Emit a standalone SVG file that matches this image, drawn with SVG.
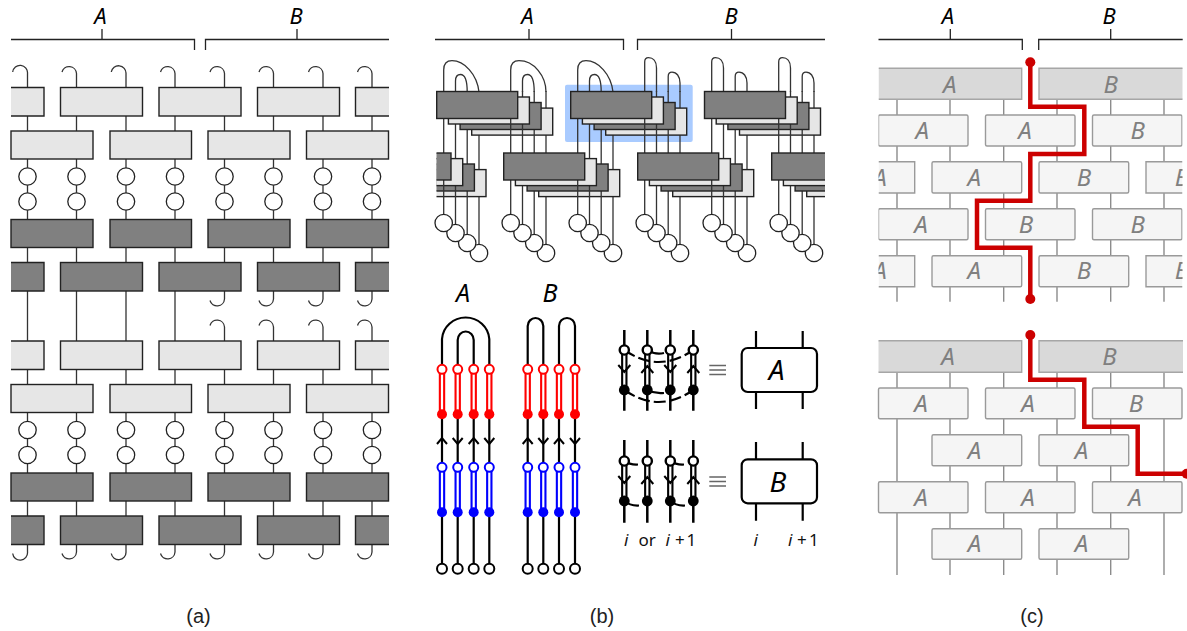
<svg xmlns="http://www.w3.org/2000/svg" width="1187" height="631" viewBox="0 0 1187 631">
<style>
text{font-family:"Noto Sans","DejaVu Sans",sans-serif;fill:#000}
.hd{font-size:22px;font-style:italic;text-anchor:middle}
.cap{font-family:"Liberation Sans",Arial,sans-serif;font-size:20px;text-anchor:middle;fill:#222}
.br{fill:none;stroke:#222;stroke-width:1.3}
.wa{fill:none;stroke:#333;stroke-width:1.3}
.lt{fill:#e6e6e6;stroke:#222;stroke-width:1.4}
.dk{fill:#808080;stroke:#222;stroke-width:1.4}
.oc{fill:#fff;stroke:#222;stroke-width:1.3}
.k2{fill:none;stroke:#000;stroke-width:2.2}
.k3{fill:none;stroke:#000;stroke-width:2.5}
.dbl{fill:none;stroke-width:6.4}
.dblw{fill:none;stroke:#fff;stroke-width:2.2}
.rc{fill:#fff;stroke:#f00;stroke-width:2}
.bc{fill:#fff;stroke:#00f;stroke-width:2}
.kc{fill:#fff;stroke:#000;stroke-width:2}
.kd{fill:#fff;stroke:#000;stroke-width:2.4}
.ar{fill:none;stroke:#000;stroke-width:2}
.dash{fill:none;stroke:#000;stroke-width:2.2}
.mb{fill:#fff;stroke:#000;stroke-width:2.2}
.eq{stroke:#666;stroke-width:1.4;fill:none}
.lab{font-size:17px;fill:#111}
.big{font-size:25px;font-style:italic;text-anchor:middle}
.bigg{font-size:28px;font-style:italic;text-anchor:middle}
.wc{fill:none;stroke:#8c8c8c;stroke-width:1.4}
.h{fill:#d9d9d9;stroke:#a6a6a6;stroke-width:1.4}
.b{fill:#f5f5f5;stroke:#9a9a9a;stroke-width:1.4}
.t{font-size:24px;font-style:italic;text-anchor:middle;fill:#808080}
.red{fill:none;stroke:#cc0000;stroke-width:4.5}
</style>
<defs>
<clipPath id="clipB"><rect x="436.5" y="140" width="388.5" height="60"/></clipPath>
<clipPath id="clipC"><rect x="878.5" y="0" width="304" height="631"/></clipPath>
</defs>

<g id="brackets">
<path class="br" d="M11 39.5H194.5V50M102 29V39.5"/>
<path class="br" d="M389 39.5H205.5V50M297 29V39.5"/>
<path class="br" d="M435 39.5H623.5V50M529 29V39.5"/>
<path class="br" d="M825 39.5H637.5V50M731.5 29V39.5"/>
<path class="br" d="M878.5 39.5H1022.3V50M950.3 29V39.5"/>
<path class="br" d="M1182.7 39.5H1038.7V50M1110.7 29V39.5"/>
<text class="hd" x="100.5" y="24">A</text>
<text class="hd" x="296" y="24">B</text>
<text class="hd" x="527.5" y="24">A</text>
<text class="hd" x="731" y="24">B</text>
<text class="hd" x="948" y="24">A</text>
<text class="hd" x="1109" y="24">B</text>
</g>

<g id="connectors-a">
<path class="wa" d="M12.7 72A7.4 7.4 0 0 1 27.5 73.5V552A7.4 7.4 0 0 1 12.7 553.5"/>
<path class="wa" d="M62 72A7.4 7.4 0 0 1 76.5 73.5V552A7.4 7.4 0 0 1 62 553.5"/>
<path class="wa" d="M111.3 72A7.4 7.4 0 0 1 126 73.5V552A7.4 7.4 0 0 1 111.3 553.5"/>
<path class="wa" d="M160.5 72A7.4 7.4 0 0 1 175 73.5V552A7.4 7.4 0 0 1 160.5 553.5"/>
<path class="wa" d="M210 72A7.4 7.4 0 0 1 224.5 73.5V299A7.4 7.4 0 0 1 210 300.5M210 325.5A7.4 7.4 0 0 1 224.5 327V552A7.4 7.4 0 0 1 210 553.5"/>
<path class="wa" d="M259 72A7.4 7.4 0 0 1 273.5 73.5V299A7.4 7.4 0 0 1 259 300.5M259 325.5A7.4 7.4 0 0 1 273.5 327V552A7.4 7.4 0 0 1 259 553.5"/>
<path class="wa" d="M308.5 72A7.4 7.4 0 0 1 323 73.5V299A7.4 7.4 0 0 1 308.5 300.5M308.5 325.5A7.4 7.4 0 0 1 323 327V552A7.4 7.4 0 0 1 308.5 553.5"/>
<path class="wa" d="M357.5 72A7.4 7.4 0 0 1 372 73.5V299A7.4 7.4 0 0 1 357.5 300.5M357.5 325.5A7.4 7.4 0 0 1 372 327V552A7.4 7.4 0 0 1 357.5 553.5"/>
</g>

<g id="a-block-top">
<path class="lt" d="M11 87.5H44V116H11"/>
<rect class="lt" x="60.5" y="87.5" width="82" height="28.5"/>
<rect class="lt" x="159" y="87.5" width="82" height="28.5"/>
<rect class="lt" x="257.5" y="87.5" width="82" height="28.5"/>
<path class="lt" d="M389 87.5H355.5V116H389"/>
<rect class="lt" x="11" y="131" width="82" height="28"/>
<rect class="lt" x="110" y="131" width="81.5" height="28"/>
<rect class="lt" x="208" y="131" width="82" height="28"/>
<rect class="lt" x="306.5" y="131" width="82" height="28"/>
<circle class="oc" cx="27.5" cy="176.5" r="8.7"/><circle class="oc" cx="76.5" cy="176.5" r="8.7"/><circle class="oc" cx="126" cy="176.5" r="8.7"/><circle class="oc" cx="175" cy="176.5" r="8.7"/><circle class="oc" cx="224.5" cy="176.5" r="8.7"/><circle class="oc" cx="273.5" cy="176.5" r="8.7"/><circle class="oc" cx="323" cy="176.5" r="8.7"/><circle class="oc" cx="372" cy="176.5" r="8.7"/>
<circle class="oc" cx="27.5" cy="201.5" r="8.7"/><circle class="oc" cx="76.5" cy="201.5" r="8.7"/><circle class="oc" cx="126" cy="201.5" r="8.7"/><circle class="oc" cx="175" cy="201.5" r="8.7"/><circle class="oc" cx="224.5" cy="201.5" r="8.7"/><circle class="oc" cx="273.5" cy="201.5" r="8.7"/><circle class="oc" cx="323" cy="201.5" r="8.7"/><circle class="oc" cx="372" cy="201.5" r="8.7"/>
<rect class="dk" x="11" y="219.5" width="82" height="28"/>
<rect class="dk" x="110" y="219.5" width="81.5" height="28"/>
<rect class="dk" x="208" y="219.5" width="82" height="28"/>
<rect class="dk" x="306.5" y="219.5" width="82" height="28"/>
<path class="dk" d="M11 262.5H44V291H11"/>
<rect class="dk" x="60.5" y="262.5" width="82" height="28.5"/>
<rect class="dk" x="159" y="262.5" width="82" height="28.5"/>
<rect class="dk" x="257.5" y="262.5" width="82" height="28.5"/>
<path class="dk" d="M389 262.5H355.5V291H389"/>
</g>

<g id="a-block-bottom">
<path class="lt" d="M11 341H44V369.5H11"/>
<rect class="lt" x="60.5" y="341" width="82" height="28.5"/>
<rect class="lt" x="159" y="341" width="82" height="28.5"/>
<rect class="lt" x="257.5" y="341" width="82" height="28.5"/>
<path class="lt" d="M389 341H355.5V369.5H389"/>
<rect class="lt" x="11" y="384.5" width="82" height="28"/>
<rect class="lt" x="110" y="384.5" width="81.5" height="28"/>
<rect class="lt" x="208" y="384.5" width="82" height="28"/>
<rect class="lt" x="306.5" y="384.5" width="82" height="28"/>
<circle class="oc" cx="27.5" cy="430" r="8.7"/><circle class="oc" cx="76.5" cy="430" r="8.7"/><circle class="oc" cx="126" cy="430" r="8.7"/><circle class="oc" cx="175" cy="430" r="8.7"/><circle class="oc" cx="224.5" cy="430" r="8.7"/><circle class="oc" cx="273.5" cy="430" r="8.7"/><circle class="oc" cx="323" cy="430" r="8.7"/><circle class="oc" cx="372" cy="430" r="8.7"/>
<circle class="oc" cx="27.5" cy="455" r="8.7"/><circle class="oc" cx="76.5" cy="455" r="8.7"/><circle class="oc" cx="126" cy="455" r="8.7"/><circle class="oc" cx="175" cy="455" r="8.7"/><circle class="oc" cx="224.5" cy="455" r="8.7"/><circle class="oc" cx="273.5" cy="455" r="8.7"/><circle class="oc" cx="323" cy="455" r="8.7"/><circle class="oc" cx="372" cy="455" r="8.7"/>
<rect class="dk" x="11" y="473" width="82" height="28"/>
<rect class="dk" x="110" y="473" width="81.5" height="28"/>
<rect class="dk" x="208" y="473" width="82" height="28"/>
<rect class="dk" x="306.5" y="473" width="82" height="28"/>
<path class="dk" d="M11 516H44V544.5H11"/>
<rect class="dk" x="60.5" y="516" width="82" height="28.5"/>
<rect class="dk" x="159" y="516" width="82" height="28.5"/>
<rect class="dk" x="257.5" y="516" width="82" height="28.5"/>
<path class="dk" d="M389 516H355.5V544.5H389"/>
</g>

<g id="b-highlight"><rect x="565" y="84.7" width="127.7" height="57.3" rx="2" fill="#a9cbff"/></g>

<g id="connectors-b-arcs">
<path class="wa" d="M443.7 92V70C443.7 63.5 447 60.7 452 60.7C464 60.7 477 74 479 92M455.5 92V81C455.5 76.5 457.5 74.5 460.5 74.5C465 74.5 467.2 80 467.2 92"/>
<path class="wa" d="M510.7 92V70C510.7 63.5 514 60.7 519 60.7C534 60.7 546 76 546 92M522.5 92V81C522.5 76.5 524.5 74.5 527.5 74.5C532 74.5 534.2 80 534.2 92"/>
<path class="wa" d="M577.7 92V70C577.7 63.5 581 60.7 586 60.7C598 60.7 611 74 613 92M589.5 92V81C589.5 76.5 591.5 74.5 594.5 74.5C599 74.5 601.2 80 601.2 92"/>
<path class="wa" d="M644.7 92V62C644.7 59 646.5 57.7 648.5 57.7C653 57.7 656.5 61 656.5 68V92M668.2 92V76.5C668.2 73.5 670 72.2 672 72.2C676.5 72.2 680 76 680 83V92"/>
<path class="wa" d="M711.7 92V62C711.7 59 713.5 57.7 715.5 57.7C720 57.7 723.5 61 723.5 68V92M735.2 92V76.5C735.2 73.5 737 72.2 739 72.2C743.5 72.2 747 76 747 83V92"/>
<path class="wa" d="M778.7 92V62C778.7 59 780.5 57.7 782.5 57.7C787 57.7 790.5 61 790.5 68V92M802.2 92V76.5C802.2 73.5 804 72.2 806 72.2C810.5 72.2 814 76 814 83V92"/>
</g>

<g id="connectors-b-layer4"><path class="wa" d="M479 91V253M546 91V253M613 91V253M680 91V253M747 91V253M814 91V253"/></g>
<g id="b-layer4">
<rect class="lt" x="471.7" y="108.1" width="81" height="27"/><rect class="lt" x="605.7" y="108.1" width="81" height="27"/><rect class="lt" x="739.5" y="108.1" width="81" height="27"/>
<g clip-path="url(#clipB)"><rect class="lt" x="405" y="169.6" width="81" height="27"/><rect class="lt" x="538.7" y="169.6" width="81" height="27"/><rect class="lt" x="672.7" y="169.6" width="81" height="27"/><rect class="lt" x="806.7" y="169.6" width="81" height="27"/></g>
</g>
<g id="connectors-b-layer3"><path class="wa" d="M467.2 91V243M534.2 91V243M601.2 91V243M668.2 91V243M735.2 91V243M802.2 91V243"/></g>
<g id="b-layer3">
<rect class="dk" x="460.1" y="102.5" width="81" height="27"/><rect class="dk" x="594.1" y="102.5" width="81" height="27"/><rect class="dk" x="727.9" y="102.5" width="81" height="27"/>
<g clip-path="url(#clipB)"><rect class="dk" x="393.4" y="164" width="81" height="27"/><rect class="dk" x="527.1" y="164" width="81" height="27"/><rect class="dk" x="661.1" y="164" width="81" height="27"/><rect class="dk" x="795.1" y="164" width="81" height="27"/></g>
</g>
<g id="connectors-b-layer2"><path class="wa" d="M455.5 91V233M522.5 91V233M589.5 91V233M656.5 91V233M723.5 91V233M790.5 91V233"/></g>
<g id="b-layer2">
<rect class="lt" x="448.4" y="97" width="81" height="27"/><rect class="lt" x="582.4" y="97" width="81" height="27"/><rect class="lt" x="716.2" y="97" width="81" height="27"/>
<g clip-path="url(#clipB)"><rect class="lt" x="381.7" y="158.6" width="81" height="27"/><rect class="lt" x="515.4" y="158.6" width="81" height="27"/><rect class="lt" x="649.4" y="158.6" width="81" height="27"/><rect class="lt" x="783.4" y="158.6" width="81" height="27"/></g>
</g>
<g id="connectors-b-layer1"><path class="wa" d="M443.7 91V223M510.7 91V223M577.7 91V223M644.7 91V223M711.7 91V223M778.7 91V223"/></g>
<g id="b-layer1">
<rect class="dk" x="436.7" y="91.5" width="81" height="27"/><rect class="dk" x="570.7" y="91.5" width="81" height="27"/><rect class="dk" x="704.5" y="91.5" width="81" height="27"/>
<g clip-path="url(#clipB)"><rect class="dk" x="370" y="153" width="81" height="27"/><rect class="dk" x="503.7" y="153" width="81" height="27"/><rect class="dk" x="637.7" y="153" width="81" height="27"/><rect class="dk" x="771.7" y="153" width="81" height="27"/></g>
</g>

<g id="b-circles">
<circle class="oc" cx="479" cy="253" r="8.7"/><circle class="oc" cx="467.2" cy="243" r="8.7"/><circle class="oc" cx="455.5" cy="233" r="8.7"/><circle class="oc" cx="443.7" cy="223" r="8.7"/>
<circle class="oc" cx="546" cy="253" r="8.7"/><circle class="oc" cx="534.2" cy="243" r="8.7"/><circle class="oc" cx="522.5" cy="233" r="8.7"/><circle class="oc" cx="510.7" cy="223" r="8.7"/>
<circle class="oc" cx="613" cy="253" r="8.7"/><circle class="oc" cx="601.2" cy="243" r="8.7"/><circle class="oc" cx="589.5" cy="233" r="8.7"/><circle class="oc" cx="577.7" cy="223" r="8.7"/>
<circle class="oc" cx="680" cy="253" r="8.7"/><circle class="oc" cx="668.2" cy="243" r="8.7"/><circle class="oc" cx="656.5" cy="233" r="8.7"/><circle class="oc" cx="644.7" cy="223" r="8.7"/>
<circle class="oc" cx="747" cy="253" r="8.7"/><circle class="oc" cx="735.2" cy="243" r="8.7"/><circle class="oc" cx="723.5" cy="233" r="8.7"/><circle class="oc" cx="711.7" cy="223" r="8.7"/>
<circle class="oc" cx="814" cy="253" r="8.7"/><circle class="oc" cx="802.2" cy="243" r="8.7"/><circle class="oc" cx="790.5" cy="233" r="8.7"/><circle class="oc" cx="778.7" cy="223" r="8.7"/>
</g>

<g id="b-model-A">
<text class="big" x="463" y="302">A</text>
<path class="k2" d="M442 369V339A23.7 23 0 0 1 489.3 339V369M457.7 369V340A8 8.5 0 0 1 473.7 340V369"/>
<path class="k2" d="M442 414V568M457.7 414V568M473.7 414V568M489.3 414V568"/>
<path class="dbl" stroke="#f00" d="M442 369V414M457.7 369V414M473.7 369V414M489.3 369V414"/>
<path class="dblw" d="M442 372V410M457.7 372V410M473.7 372V410M489.3 372V410"/>
<path class="dbl" stroke="#00f" d="M442 467V512M457.7 467V512M473.7 467V512M489.3 467V512"/>
<path class="dblw" d="M442 470V508M457.7 470V508M473.7 470V508M489.3 470V508"/>
<path class="ar" d="M437 444L442 438L447 444M452.7 438L457.7 444L462.7 438M468.7 444L473.7 438L478.7 444M484.3 438L489.3 444L494.3 438"/>
<circle class="rc" cx="442" cy="369.3" r="4.5"/><circle class="rc" cx="457.7" cy="369.3" r="4.5"/><circle class="rc" cx="473.7" cy="369.3" r="4.5"/><circle class="rc" cx="489.3" cy="369.3" r="4.5"/>
<circle fill="#f00" cx="442" cy="414.3" r="5"/><circle fill="#f00" cx="457.7" cy="414.3" r="5"/><circle fill="#f00" cx="473.7" cy="414.3" r="5"/><circle fill="#f00" cx="489.3" cy="414.3" r="5"/>
<circle class="bc" cx="442" cy="467.3" r="4.5"/><circle class="bc" cx="457.7" cy="467.3" r="4.5"/><circle class="bc" cx="473.7" cy="467.3" r="4.5"/><circle class="bc" cx="489.3" cy="467.3" r="4.5"/>
<circle fill="#00f" cx="442" cy="512.3" r="5"/><circle fill="#00f" cx="457.7" cy="512.3" r="5"/><circle fill="#00f" cx="473.7" cy="512.3" r="5"/><circle fill="#00f" cx="489.3" cy="512.3" r="5"/>
<circle class="kc" cx="442" cy="568.7" r="5"/><circle class="kc" cx="457.7" cy="568.7" r="5"/><circle class="kc" cx="473.7" cy="568.7" r="5"/><circle class="kc" cx="489.3" cy="568.7" r="5"/>
</g>

<g id="b-model-B">
<text class="big" x="550" y="302">B</text>
<path class="k2" d="M527.7 369V326A7.8 8 0 0 1 543.3 326V369M559 369V326A8 8 0 0 1 575 326V369"/>
<path class="k2" d="M527.7 414V568M543.3 414V568M559 414V568M575 414V568"/>
<path class="dbl" stroke="#f00" d="M527.7 369V414M543.3 369V414M559 369V414M575 369V414"/>
<path class="dblw" d="M527.7 372V410M543.3 372V410M559 372V410M575 372V410"/>
<path class="dbl" stroke="#00f" d="M527.7 467V512M543.3 467V512M559 467V512M575 467V512"/>
<path class="dblw" d="M527.7 470V508M543.3 470V508M559 470V508M575 470V508"/>
<path class="ar" d="M522.7 444L527.7 438L532.7 444M538.3 438L543.3 444L548.3 438M554 444L559 438L564 444M570 438L575 444L580 438"/>
<circle class="rc" cx="527.7" cy="369.3" r="4.5"/><circle class="rc" cx="543.3" cy="369.3" r="4.5"/><circle class="rc" cx="559" cy="369.3" r="4.5"/><circle class="rc" cx="575" cy="369.3" r="4.5"/>
<circle fill="#f00" cx="527.7" cy="414.3" r="5"/><circle fill="#f00" cx="543.3" cy="414.3" r="5"/><circle fill="#f00" cx="559" cy="414.3" r="5"/><circle fill="#f00" cx="575" cy="414.3" r="5"/>
<circle class="bc" cx="527.7" cy="467.3" r="4.5"/><circle class="bc" cx="543.3" cy="467.3" r="4.5"/><circle class="bc" cx="559" cy="467.3" r="4.5"/><circle class="bc" cx="575" cy="467.3" r="4.5"/>
<circle fill="#00f" cx="527.7" cy="512.3" r="5"/><circle fill="#00f" cx="543.3" cy="512.3" r="5"/><circle fill="#00f" cx="559" cy="512.3" r="5"/><circle fill="#00f" cx="575" cy="512.3" r="5"/>
<circle class="kc" cx="527.7" cy="568.7" r="5"/><circle class="kc" cx="543.3" cy="568.7" r="5"/><circle class="kc" cx="559" cy="568.7" r="5"/><circle class="kc" cx="575" cy="568.7" r="5"/>
</g>

<g id="b-gate-A-network">
<path class="k3" d="M624.3 330V410.7M647.3 330V410.7M670.3 330V410.7M693.3 330V410.7"/>
<path class="dbl" stroke="#000" d="M624.3 350V390M647.3 350V390M670.3 350V390M693.3 350V390"/>
<path class="dblw" d="M624.3 354V386M647.3 354V386M670.3 354V386M693.3 354V386"/>
<path class="dash" stroke-dasharray="12 4" d="M624.3 350Q658.8 374 693.3 350M624.3 390Q658.8 414 693.3 390"/>
<path class="dash" d="M647.3 350Q655 355 664 353M647.3 390Q655 394 664 393"/>
<path class="ar" d="M618.3 365L624.3 372L630.3 365M641.3 373L647.3 366L653.3 373M664.3 365L670.3 372L676.3 365M687.3 373L693.3 366L699.3 373"/>
<circle class="kd" cx="624.3" cy="350" r="4.6"/><circle class="kd" cx="647.3" cy="350" r="4.6"/><circle class="kd" cx="670.3" cy="350" r="4.6"/><circle class="kd" cx="693.3" cy="350" r="4.6"/>
<circle cx="624.3" cy="390" r="5.4"/><circle cx="647.3" cy="390" r="5.4"/><circle cx="670.3" cy="390" r="5.4"/><circle cx="693.3" cy="390" r="5.4"/>
</g>

<g id="b-gate-B-network">
<path class="k3" d="M624.3 440V522.7M647.3 440V522.7M670.3 440V522.7M693.3 440V522.7"/>
<path class="dbl" stroke="#000" d="M624.3 461V501M647.3 461V501M670.3 461V501M693.3 461V501"/>
<path class="dblw" d="M624.3 465V497M647.3 465V497M670.3 465V497M693.3 465V497"/>
<path class="dash" d="M624.3 461Q630 465 638 464.5M670.3 461Q676 465 684 464.5M624.3 501Q630 506 639 505.5M670.3 501Q676 506 685 505.5"/>
<path class="ar" d="M618.3 476L624.3 483L630.3 476M641.3 484L647.3 477L653.3 484M664.3 476L670.3 483L676.3 476M687.3 484L693.3 477L699.3 484"/>
<circle class="kd" cx="624.3" cy="461" r="4.6"/><circle class="kd" cx="647.3" cy="461" r="4.6"/><circle class="kd" cx="670.3" cy="461" r="4.6"/><circle class="kd" cx="693.3" cy="461" r="4.6"/>
<circle cx="624.3" cy="501" r="5.4"/><circle cx="647.3" cy="501" r="5.4"/><circle cx="670.3" cy="501" r="5.4"/><circle cx="693.3" cy="501" r="5.4"/>
</g>

<g id="b-equiv"><path class="eq" d="M709.3 365.5H726M709.3 370H726M709.3 374.5H726M709.3 477H726M709.3 481.5H726M709.3 486H726"/></g>

<g id="b-gate-A">
<path class="k2" d="M756 331V409M802.7 331V409"/>
<rect class="mb" x="741.7" y="348" width="75.3" height="44" rx="6"/>
<text class="bigg" x="776.7" y="380">A</text>
</g>
<g id="b-gate-B">
<path class="k2" d="M756 442V520.7M802.7 442V520.7"/>
<rect class="mb" x="741.7" y="459.3" width="75.3" height="44" rx="6"/>
<text class="bigg" x="778" y="492">B</text>
</g>
<g id="b-index-labels">
<text class="lab" x="624" y="545.5" font-style="italic">i</text>
<text class="lab" x="638.5" y="545.5">or</text>
<text class="lab" x="665.5" y="545.5" font-style="italic">i</text>
<text class="lab" x="675" y="545.5">+</text>
<text class="lab" x="686.5" y="545.5">1</text>
<text class="lab" x="753.5" y="545.5" font-style="italic">i</text>
<text class="lab" x="788" y="545.5" font-style="italic">i</text>
<text class="lab" x="797" y="545.5">+</text>
<text class="lab" x="809" y="545.5">1</text>
</g>

<g id="connectors-c-top">
<path class="wc" d="M897 99V301.7M950 99V301.7M1003.7 99V301.7M1057 99V301.7M1110.7 99V301.7M1164 99V301.7"/>
</g>
<g id="c-top" clip-path="url(#clipC)">
<path class="h" d="M878.5 68.3H1021.7V99.3H878.5"/>
<path class="h" d="M1183 68.3H1039V99.3H1183"/>
<rect class="b" x="878.5" y="115" width="89.5" height="31" rx="1.5"/>
<rect class="b" x="985.5" y="115" width="89.5" height="31" rx="1.5"/>
<rect class="b" x="1092.5" y="115" width="89.5" height="31" rx="1.5"/>
<path class="b" d="M878.5 161.7H914.7V193H878.5"/>
<rect class="b" x="932" y="161.7" width="89.7" height="31.3" rx="1.5"/>
<rect class="b" x="1039" y="161.7" width="89.7" height="31.3" rx="1.5"/>
<path class="b" d="M1182.5 161.7H1146V193H1182.5"/>
<rect class="b" x="878.5" y="208.7" width="89.5" height="31" rx="1.5"/>
<rect class="b" x="985.5" y="208.7" width="89.5" height="31" rx="1.5"/>
<rect class="b" x="1092.5" y="208.7" width="89.5" height="31" rx="1.5"/>
<path class="b" d="M878.5 255.7H914.7V286.7H878.5"/>
<rect class="b" x="932" y="255.7" width="89.7" height="31" rx="1.5"/>
<rect class="b" x="1039" y="255.7" width="89.7" height="31" rx="1.5"/>
<path class="b" d="M1182.5 255.7H1146V286.7H1182.5"/>
<text class="t" x="949.7" y="92.7">A</text><text class="t" x="1110.7" y="92.7">B</text>
<text class="t" x="922.3" y="138.7">A</text><text class="t" x="1025" y="138.7">A</text><text class="t" x="1137.7" y="138.7">B</text>
<text class="t" x="880" y="185.7">A</text><text class="t" x="974.3" y="185.7">A</text><text class="t" x="1084" y="185.7">B</text><text class="t" x="1182" y="185.7">B</text>
<text class="t" x="921" y="232.7">A</text><text class="t" x="1026" y="232.7">B</text><text class="t" x="1137.7" y="232.7">B</text>
<text class="t" x="880" y="279.3">A</text><text class="t" x="974.3" y="279.3">A</text><text class="t" x="1084" y="279.3">B</text><text class="t" x="1182" y="279.3">B</text>
</g>
<g id="c-cut-top">
<path class="red" d="M1030.3 62.3V106.7H1084.3V154H1030.3V200.7H977V247.7H1030.3V299"/>
<circle fill="#cc0000" cx="1030.3" cy="62.3" r="5"/><circle fill="#cc0000" cx="1030.3" cy="299" r="5"/>
</g>

<g id="connectors-c-bottom">
<path class="wc" d="M897 372V575M950 372V575M1003.7 372V575M1057 372V575M1110.7 372V575M1164 372V575"/>
</g>
<g id="c-bottom">
<path class="h" d="M878.5 340.7H1021.7V372.3H878.5"/>
<path class="h" d="M1183 340.7H1039V372.3H1183"/>
<rect class="b" x="878.5" y="388" width="89.5" height="30.7" rx="1.5"/>
<rect class="b" x="985.5" y="388" width="89.5" height="30.7" rx="1.5"/>
<rect class="b" x="1092.5" y="388" width="89.5" height="30.7" rx="1.5"/>
<rect class="b" x="932" y="434.7" width="89.7" height="31" rx="1.5"/>
<rect class="b" x="1039" y="434.7" width="89.7" height="31" rx="1.5"/>
<rect class="b" x="878.5" y="481.7" width="89.5" height="31" rx="1.5"/>
<rect class="b" x="985.5" y="481.7" width="89.5" height="31" rx="1.5"/>
<rect class="b" x="1092.5" y="481.7" width="89.5" height="31" rx="1.5"/>
<rect class="b" x="932" y="528.7" width="89.7" height="30.6" rx="1.5"/>
<rect class="b" x="1039" y="528.7" width="89.7" height="30.6" rx="1.5"/>
<text class="t" x="948" y="365">A</text><text class="t" x="1109.5" y="365">B</text>
<text class="t" x="921" y="412">A</text><text class="t" x="1028" y="412">A</text><text class="t" x="1136" y="412">B</text>
<text class="t" x="974.5" y="458.7">A</text><text class="t" x="1081.5" y="458.7">A</text>
<text class="t" x="921" y="505.7">A</text><text class="t" x="1028" y="505.7">A</text><text class="t" x="1135" y="505.7">A</text>
<text class="t" x="974.5" y="552.3">A</text><text class="t" x="1081.5" y="552.3">A</text>
</g>
<g id="c-cut-bottom">
<path class="red" d="M1030.3 335V379.7H1084.3V426.7H1137.7V473.7H1187"/>
<circle fill="#cc0000" cx="1030.3" cy="335" r="5"/><circle fill="#cc0000" cx="1186.7" cy="473.7" r="5"/>
</g>

<g id="captions">
<text class="cap" x="198.5" y="623">(a)</text>
<text class="cap" x="602" y="623">(b)</text>
<text class="cap" x="1032" y="623">(c)</text>
</g>
</svg>
